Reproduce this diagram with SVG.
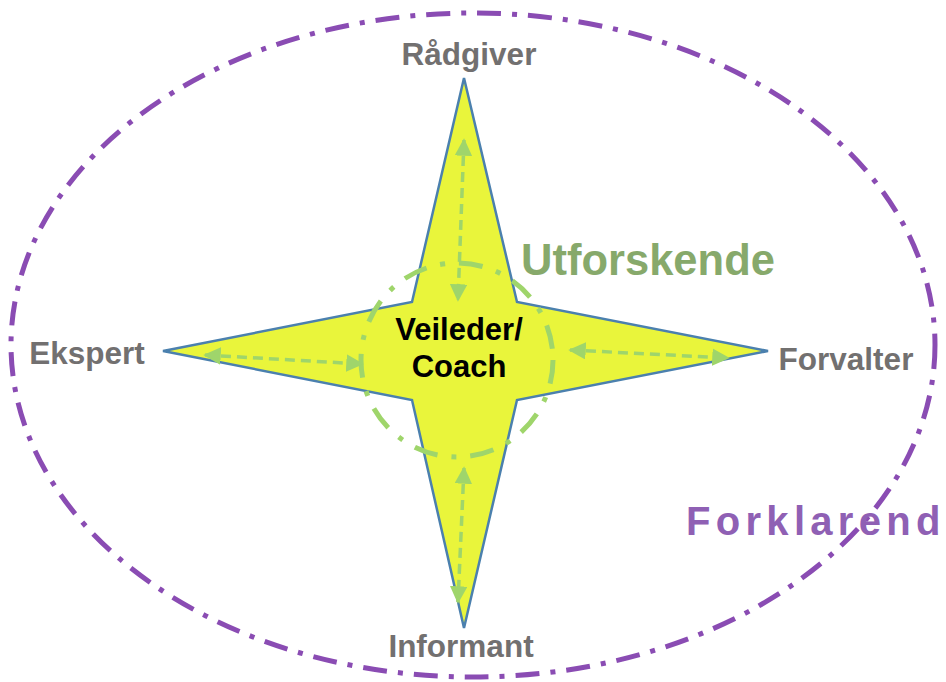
<svg xmlns="http://www.w3.org/2000/svg" width="946" height="682" viewBox="0 0 946 682">
<style>
.lbl{font-family:"Liberation Sans",Arial,sans-serif;font-weight:bold;fill:#727070;font-size:31.5px;text-anchor:middle}
.arr{stroke:#9FD56B;stroke-width:3.5;stroke-dasharray:10 6;fill:none;marker-start:url(#ah);marker-end:url(#ah)}
</style>
<defs>
<marker id="ah" viewBox="0 0 10 10" refX="9" refY="5" markerWidth="5" markerHeight="5" orient="auto-start-reverse" markerUnits="strokeWidth">
<path d="M0,0 L10,5 L0,10 z" fill="#9FD56B"/>
</marker>
</defs>
<g id="outer-ellipse">
<ellipse cx="473" cy="345" rx="462" ry="332" fill="none" stroke="#8A4CB3" stroke-width="5" stroke-dasharray="24 11 5 11"/>
</g>
<g id="star">
<polygon points="464,78 517,302 768,351 517,400 464,628 412,400 163,351 412,302" fill="#E9F53B" stroke="#4B80AE" stroke-width="2.5" stroke-linejoin="miter"/>
</g>
<g id="inner-circle">
<ellipse cx="457" cy="360" rx="96" ry="97" fill="none" stroke="#9FD56B" stroke-width="5" stroke-dasharray="24 14 5 14"/>
</g>
<g id="connectors">
<line class="arr" x1="464" y1="140" x2="458" y2="300"/>
<line class="arr" x1="464" y1="468" x2="458" y2="602"/>
<line class="arr" x1="205" y1="355" x2="362" y2="364"/>
<line class="arr" x1="570" y1="350" x2="728" y2="358"/>
</g>
<g id="center">
<text font-family="Liberation Sans,Arial,sans-serif" font-weight="bold" font-size="31" fill="#000" text-anchor="middle"><tspan x="459" y="340">Veileder/</tspan><tspan x="459" y="377">Coach</tspan></text>
</g>
<g id="radgiver"><text class="lbl" x="469" y="65">Rådgiver</text></g>
<g id="ekspert"><text class="lbl" x="87" y="364">Ekspert</text></g>
<g id="forvalter"><text class="lbl" x="846" y="370">Forvalter</text></g>
<g id="informant"><text class="lbl" x="461" y="657">Informant</text></g>
<g id="utforskende"><text x="648" y="275" font-family="Liberation Sans,Arial,sans-serif" font-weight="bold" font-size="43.5" fill="#87A96B" text-anchor="middle">Utforskende</text></g>
<g id="forklarend"><text x="686" y="535" font-family="Liberation Sans,Arial,sans-serif" font-weight="bold" font-size="40" fill="#8F60B4" letter-spacing="5.3">Forklarend</text></g>
</svg>
